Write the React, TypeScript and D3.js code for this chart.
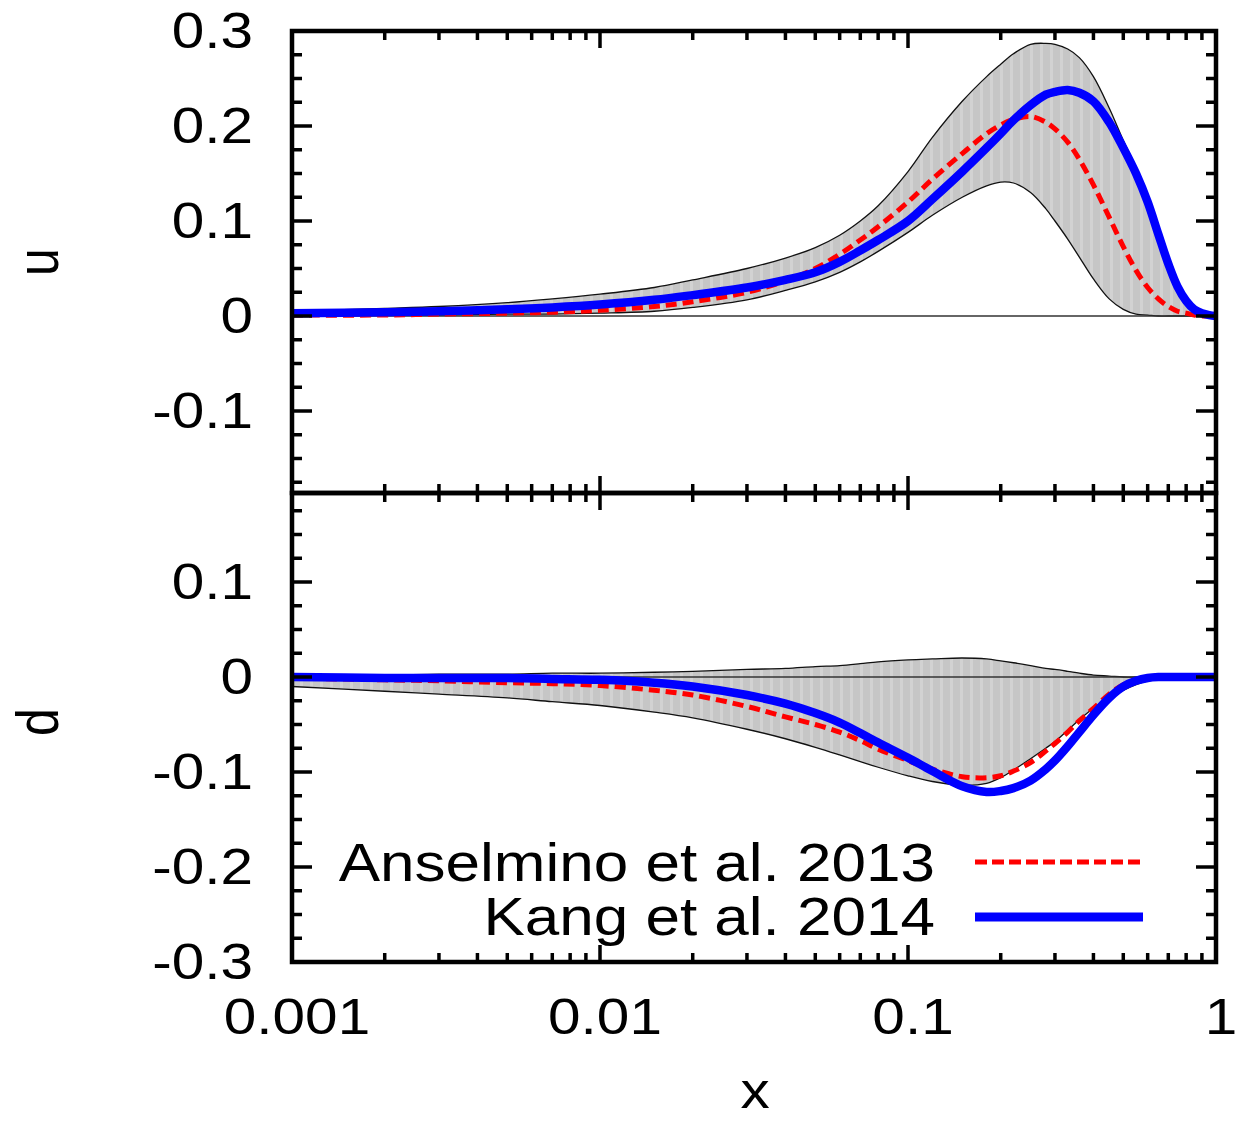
import React from 'react';
import * as d3 from 'd3';

// ---------- data ----------
const xGrid = [0.001, 0.002, 0.003, 0.005, 0.007, 0.01, 0.015, 0.02, 0.03, 0.04, 0.05, 0.06, 0.07, 0.08, 0.1, 0.12, 0.15, 0.18, 0.2, 0.22, 0.25, 0.28, 0.3, 0.33, 0.36, 0.4, 0.45, 0.5, 0.55, 0.6, 0.65, 0.7, 0.75, 0.8, 0.85, 0.9, 0.95, 1.0];

const uBandHigh = [0.005, 0.008, 0.010, 0.014, 0.018, 0.023, 0.030, 0.038, 0.050, 0.061, 0.072, 0.085, 0.100, 0.116, 0.152, 0.188, 0.226, 0.252, 0.265, 0.276, 0.286, 0.287, 0.286, 0.281, 0.272, 0.252, 0.219, 0.185, 0.156, 0.127, 0.094, 0.062, 0.037, 0.020, 0.009, 0.003, 0.001, 0];
const uBandLow = [0.0005, 0.001, 0.001, 0.002, 0.002, 0.003, 0.005, 0.009, 0.017, 0.027, 0.036, 0.046, 0.057, 0.068, 0.088, 0.106, 0.125, 0.137, 0.141, 0.140, 0.130, 0.113, 0.100, 0.081, 0.062, 0.039, 0.018, 0.007, 0.002, 0.001, 0, 0, 0, 0, 0, 0, 0, 0];
const uAnselmino = [0.001, 0.001, 0.002, 0.003, 0.004, 0.006, 0.010, 0.015, 0.025, 0.037, 0.050, 0.065, 0.080, 0.094, 0.120, 0.144, 0.171, 0.192, 0.201, 0.207, 0.210, 0.204, 0.197, 0.183, 0.165, 0.138, 0.104, 0.073, 0.048, 0.030, 0.018, 0.010, 0.005, 0.003, 0.001, 0, 0, 0];
const uKang = [0.003, 0.004, 0.005, 0.007, 0.009, 0.012, 0.017, 0.022, 0.030, 0.038, 0.046, 0.057, 0.069, 0.080, 0.100, 0.123, 0.152, 0.177, 0.192, 0.206, 0.222, 0.233, 0.236, 0.238, 0.235, 0.226, 0.204, 0.177, 0.150, 0.120, 0.086, 0.055, 0.031, 0.016, 0.007, 0.003, 0.001, 0];

const dBandHigh = [0.002, 0.002, 0.003, 0.003, 0.004, 0.004, 0.005, 0.006, 0.008, 0.009, 0.011, 0.012, 0.014, 0.016, 0.018, 0.019, 0.020, 0.019, 0.017, 0.015, 0.012, 0.009, 0.008, 0.006, 0.004, 0.002, 0.001, 0, 0, 0, 0, 0, 0, 0, 0, 0, 0, 0];
const dBandLow = [-0.010, -0.015, -0.018, -0.022, -0.026, -0.030, -0.037, -0.043, -0.055, -0.065, -0.074, -0.082, -0.089, -0.095, -0.104, -0.110, -0.114, -0.112, -0.106, -0.098, -0.086, -0.075, -0.068, -0.056, -0.045, -0.033, -0.022, -0.014, -0.008, -0.004, -0.001, 0, 0, 0, 0, 0, 0, 0];
const dAnselmino = [-0.001, -0.003, -0.004, -0.006, -0.007, -0.009, -0.014, -0.019, -0.031, -0.042, -0.050, -0.058, -0.067, -0.076, -0.088, -0.097, -0.105, -0.106, -0.104, -0.099, -0.090, -0.078, -0.070, -0.058, -0.046, -0.033, -0.018, -0.008, -0.003, -0.001, 0, 0, 0, 0, 0, 0, 0, 0];
const dKang = [0, -0.001, -0.001, -0.001, -0.002, -0.003, -0.006, -0.010, -0.019, -0.028, -0.038, -0.048, -0.059, -0.069, -0.085, -0.099, -0.115, -0.121, -0.120, -0.117, -0.109, -0.097, -0.088, -0.073, -0.058, -0.040, -0.022, -0.010, -0.004, -0.001, 0, 0, 0, 0, 0, 0, 0, 0];

const xTickValues = [0.001, 0.01, 0.1, 1];
const xTickLabels = ['0.001', '0.01', '0.1', '1'];
const uTickValues = [-0.1, 0, 0.1, 0.2, 0.3];
const uTickLabels = ['-0.1', '0', '0.1', '0.2', '0.3'];
const dTickValues = [-0.3, -0.2, -0.1, 0, 0.1];
const dTickLabels = ['-0.3', '-0.2', '-0.1', '0', '0.1'];
const seriesNames = ['Anselmino et al. 2013', 'Kang et al. 2014'];
const panelLabels = ['u', 'd'];
const xAxisLabel = 'x';

// ---------- layout ----------
const W = 1240, H = 1121;
const L = 292, R = 1216, TOP = 31, MID = 493, BOT = 962;
const SX = 1.17;
const FONT = '"Liberation Sans", Arial, Helvetica, sans-serif';

const x = d3.scaleLog().domain([0.001, 1]).range([L, R]);
const yU = d3.scaleLinear().domain([-(MID - 316) / 950, 0.3]).range([MID, TOP]);
const yD = d3.scaleLinear().domain([-0.3, (677 - MID) / 950]).range([BOT, MID]);
const curve = d3.curveCatmullRom.alpha(0.5);

function Txt({ x: tx, y: ty, anchor = 'start', size = 50, rot = false, children }: any) {
  return (
    <text
      transform={`translate(${tx},${ty}) scale(${SX},1)${rot ? ' rotate(-90)' : ''}`}
      textAnchor={anchor}
      fontSize={size}
      fontFamily={FONT}
      fill="#000"
    >
      {children}
    </text>
  );
}

function Panel({ y, hi, lo, a, k }: any) {
  const pts = xGrid.map((v, i) => ({ x: v, hi: hi[i], lo: lo[i], a: a[i], k: k[i] }));
  const area = d3.area<any>().x(d => x(d.x)).y0(d => y(d.lo)).y1(d => y(d.hi)).curve(curve);
  const lineOf = (key: string) => d3.line<any>().x(d => x(d.x)).y(d => y(d[key])).curve(curve)(pts) || '';
  return (
    <g>
      <path d={area(pts) || ''} fill="url(#stripes)" stroke="none" />
      <path d={lineOf('hi')} fill="none" stroke="#111" strokeWidth={1.3} />
      <path d={lineOf('lo')} fill="none" stroke="#111" strokeWidth={1.3} />
      <line x1={L} x2={R} y1={y(0)} y2={y(0)} stroke="#333" strokeWidth={1.5} />
      <path d={lineOf('a')} fill="none" stroke="#ff0000" strokeWidth={5} strokeDasharray="11,6" />
      <path d={lineOf('k')} fill="none" stroke="#0000ff" strokeWidth={8.5} />
    </g>
  );
}

export default function App() {
  const minorX: number[] = [];
  [0.001, 0.01, 0.1].forEach(dec => { for (let m = 2; m <= 9; m++) minorX.push(dec * m); });
  const uMinor = d3.range(-7, 13).map(i => i * 0.025);
  const dMinor = d3.range(-12, 8).map(i => i * 0.025);

  const tickW = 3.5;
  const xTicks = (yy: number, dir: number, key: string) => (
    <g key={key}>
      {minorX.map((v, i) => (
        <line key={'m' + i} x1={x(v)} x2={x(v)} y1={yy} y2={yy + dir * 9} stroke="#000" strokeWidth={tickW} />
      ))}
      {xTickValues.map((v, i) => (
        <line key={'M' + i} x1={x(v)} x2={x(v)} y1={yy} y2={yy + dir * 17} stroke="#000" strokeWidth={tickW} />
      ))}
    </g>
  );
  const yTicks = (scale: any, vals: number[], key: string) => (
    <g key={key}>
      {vals.map((v, i) => {
        const major = Math.abs(Math.round(v * 40) % 4) === 0;
        const len = major ? 20 : 10;
        const yy = scale(v);
        if (yy < TOP - 1 || yy > BOT + 1) return null;
        return (
          <g key={i}>
            <line x1={L} x2={L + len} y1={yy} y2={yy} stroke="#000" strokeWidth={tickW} />
            <line x1={R} x2={R - len} y1={yy} y2={yy} stroke="#000" strokeWidth={tickW} />
          </g>
        );
      })}
    </g>
  );

  return (
    <svg width={W} height={H} style={{ position: 'absolute', left: 0, top: 0, background: '#fff' }}>
      <defs>
        <pattern id="stripes" patternUnits="userSpaceOnUse" width={10} height={10}>
          <rect width={10} height={10} fill="#c6c6c6" />
          <rect x={0} width={3} height={10} fill="#d2d2d2" />
        </pattern>
      </defs>
      <rect width={W} height={H} fill="#fff" />

      <Panel y={yU} hi={uBandHigh} lo={uBandLow} a={uAnselmino} k={uKang} />
      <Panel y={yD} hi={dBandHigh} lo={dBandLow} a={dAnselmino} k={dKang} />

      {/* ticks */}
      {xTicks(TOP, 1, 'xt')}
      {xTicks(MID, -1, 'xm1')}
      {xTicks(MID, 1, 'xm2')}
      {xTicks(BOT, -1, 'xb')}
      {yTicks(yU, uMinor, 'yu')}
      {yTicks(yD, dMinor, 'yd')}

      {/* frames */}
      <rect x={L} y={TOP} width={R - L} height={MID - TOP} fill="none" stroke="#000" strokeWidth={4.5} />
      <rect x={L} y={MID} width={R - L} height={BOT - MID} fill="none" stroke="#000" strokeWidth={4.5} />

      {/* y tick labels */}
      {uTickValues.map((v, i) => (
        <Txt key={'ul' + i} x={253} y={yU(v) + 17} anchor="end">{uTickLabels[i]}</Txt>
      ))}
      {dTickValues.map((v, i) => (
        <Txt key={'dl' + i} x={253} y={yD(v) + 17} anchor="end">{dTickLabels[i]}</Txt>
      ))}
      {/* x tick labels */}
      {xTickValues.map((v, i) => (
        <Txt key={'xl' + i} x={x(v) + 5} y={1034} anchor="middle">{xTickLabels[i]}</Txt>
      ))}

      {/* axis labels */}
      <Txt x={58} y={262} anchor="middle" rot>{panelLabels[0]}</Txt>
      <Txt x={58} y={722} anchor="middle" rot>{panelLabels[1]}</Txt>
      <Txt x={755} y={1108} anchor="middle">{xAxisLabel}</Txt>

      {/* legend */}
      <Txt x={935} y={881} anchor="end" size={53}>{seriesNames[0]}</Txt>
      <Txt x={935} y={935} anchor="end" size={53}>{seriesNames[1]}</Txt>
      <line x1={975} x2={1140} y1={862} y2={862} stroke="#ff0000" strokeWidth={5} strokeDasharray="12,5" />
      <line x1={975} x2={1143} y1={917} y2={917} stroke="#0000ff" strokeWidth={9} />
    </svg>
  );
}
